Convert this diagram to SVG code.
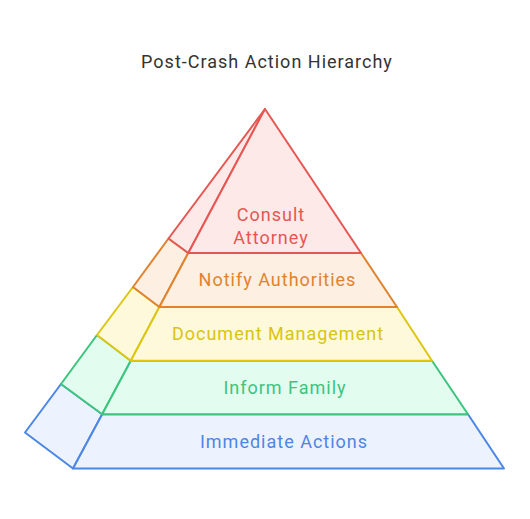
<svg xmlns="http://www.w3.org/2000/svg" width="530" height="519" viewBox="0 0 530 519">
<style>
.t{font-family:Roboto,"Liberation Sans",sans-serif;font-size:18px;letter-spacing:1px;text-anchor:middle}
.s{stroke-width:2;stroke-linejoin:round}
.r{stroke:#e55753;fill:#fee9e9}.rt{fill:#e55753}
.o{stroke:#e0832f;fill:#feefe3}.ot{fill:#e0832f}
.y{stroke:#dcc60f;fill:#fef9da}.yt{fill:#d9c40f}
.g{stroke:#3cc47e;fill:#e2fcef}.gt{fill:#3cc47e}
.b{stroke:#4c86e6;fill:#ecf2fe}.bt{fill:#4c86e6}
</style>
<rect width="530" height="519" fill="#fff"/>
<text x="267" y="68" class="t" style="fill:#333">Post-Crash Action Hierarchy</text>
<g id="layer-immediate">
<polygon class="s b" points="73,468.5 102.2,414.3 61,384 25,432.5"/>
<polygon class="s b" points="73,468.5 504,468.5 468,414.3 102.2,414.3"/>
<text x="284" y="448" class="t bt">Immediate Actions</text>
</g>
<g id="layer-inform">
<polygon class="s g" points="102.2,414.3 130.8,360.7 97,335 61,384"/>
<polygon class="s g" points="102.2,414.3 468,414.3 432,360.7 130.8,360.7"/>
<text x="285" y="394" class="t gt">Inform Family</text>
</g>
<g id="layer-document">
<polygon class="s y" points="130.8,360.7 159.4,307 133,287 97,335"/>
<polygon class="s y" points="130.8,360.7 432,360.7 397,307 159.4,307"/>
<text x="278" y="340" class="t yt">Document Management</text>
</g>
<g id="layer-notify">
<polygon class="s o" points="159.4,307 188.3,253 168.5,238.5 133,287"/>
<polygon class="s o" points="159.4,307 397,307 361,253 188.3,253"/>
<text x="277.5" y="286" class="t ot">Notify Authorities</text>
</g>
<g id="layer-consult">
<polygon class="s r" points="188.3,253 265,109 168.5,238.5"/>
<polygon class="s r" points="188.3,253 361,253 265,109"/>
<text x="271" y="221" class="t rt">Consult</text>
<text x="271" y="244" class="t rt">Attorney</text>
</g>
<g id="connectors"/>
</svg>
